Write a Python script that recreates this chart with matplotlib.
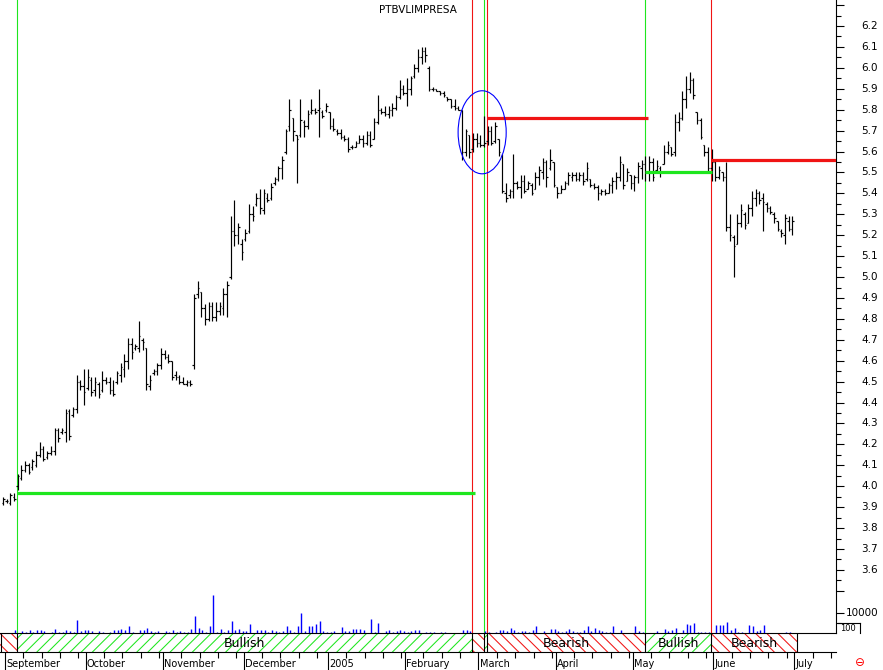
import numpy as np
import pandas as pd
import matplotlib
matplotlib.use("Agg")
import matplotlib.pyplot as plt
from matplotlib.collections import LineCollection
from matplotlib.patches import Rectangle, Ellipse
from matplotlib.lines import Line2D
import matplotlib.transforms as mtransforms

plt.rcParams['font.family'] = ['DejaVu Sans']
plt.rcParams['hatch.linewidth'] = 0.75

# ---------------- data ----------------
ticker = "PTBVLIMPRESA"
first_day = "2004-08-31"
axis_last_day = "2005-07-22"
holidays = ["2005-03-25", "2005-03-28"]

high = [3.95, 3.94, 3.97, 3.97, 4.06, 4.10, 4.12, 4.11, 4.13, 4.17,
        4.21, 4.19, 4.17, 4.19, 4.28, 4.28, 4.28, 4.37, 4.37, 4.38,
        4.53, 4.51, 4.56, 4.56, 4.52, 4.52, 4.50, 4.55, 4.52, 4.52,
        4.51, 4.55, 4.59, 4.63, 4.71, 4.71, 4.68, 4.79, 4.71, 4.66,
        4.53, 4.56, 4.59, 4.66, 4.65, 4.63, 4.60, 4.55, 4.53, 4.52,
        4.51, 4.51, 4.92, 4.98, 4.93, 4.87, 4.88, 4.88, 4.88, 4.88,
        4.95, 4.98, 5.29, 5.37, 5.26, 5.18, 5.23, 5.35, 5.34, 5.40,
        5.42, 5.42, 5.40, 5.45, 5.48, 5.53, 5.58, 5.71, 5.85, 5.76,
        5.68, 5.85, 5.75, 5.80, 5.85, 5.81, 5.90, 5.80, 5.83, 5.79,
        5.76, 5.71, 5.71, 5.68, 5.67, 5.63, 5.65, 5.68, 5.68, 5.70,
        5.70, 5.76, 5.87, 5.81, 5.82, 5.82, 5.83, 5.87, 5.94, 5.92,
        5.95, 5.96, 6.02, 6.09, 6.10, 6.10, 6.01, 5.91, 5.90, 5.89,
        5.89, 5.86, 5.85, 5.85, 5.82, 5.80, 5.71, 5.68, 5.69, 5.69,
        5.68, 5.77, 5.72, 5.72, 5.74, 5.66, 5.59, 5.45, 5.42, 5.59,
        5.46, 5.49, 5.49, 5.46, 5.45, 5.50, 5.53, 5.57, 5.56, 5.61,
        5.55, 5.43, 5.44, 5.46, 5.50, 5.50, 5.50, 5.50, 5.50, 5.55,
        5.47, 5.45, 5.44, 5.42, 5.42, 5.45, 5.48, 5.50, 5.58, 5.54,
        5.52, 5.49, 5.49, 5.55, 5.56, 5.58, 5.58, 5.57, 5.56, 5.53,
        5.63, 5.65, 5.62, 5.78, 5.79, 5.89, 5.96, 5.98, 5.95, 5.79,
        5.76, 5.63, 5.62, 5.61, 5.56, 5.53, 5.50, 5.55, 5.30, 5.20,
        5.30, 5.35, 5.31, 5.35, 5.41, 5.42, 5.41, 5.40, 5.36, 5.34,
        5.31, 5.27, 5.23, 5.30, 5.29, 5.29]

low = [3.91, 3.92, 3.91, 3.93, 3.98, 4.03, 4.07, 4.06, 4.08, 4.09,
       4.14, 4.12, 4.13, 4.15, 4.15, 4.21, 4.25, 4.21, 4.22, 4.33,
       4.35, 4.46, 4.39, 4.46, 4.43, 4.43, 4.42, 4.45, 4.49, 4.44,
       4.43, 4.49, 4.50, 4.52, 4.56, 4.61, 4.65, 4.64, 4.65, 4.46,
       4.46, 4.53, 4.53, 4.56, 4.61, 4.59, 4.51, 4.51, 4.49, 4.49,
       4.48, 4.48, 4.56, 4.90, 4.81, 4.77, 4.79, 4.79, 4.79, 4.82,
       4.82, 4.81, 4.99, 5.15, 5.16, 5.08, 5.17, 5.21, 5.27, 5.34,
       5.30, 5.30, 5.36, 5.37, 5.44, 5.46, 5.47, 5.59, 5.70, 5.65,
       5.45, 5.67, 5.67, 5.71, 5.78, 5.78, 5.67, 5.76, 5.79, 5.71,
       5.70, 5.68, 5.66, 5.65, 5.60, 5.61, 5.62, 5.64, 5.62, 5.63,
       5.62, 5.66, 5.73, 5.78, 5.77, 5.76, 5.77, 5.80, 5.85, 5.87,
       5.82, 5.87, 5.95, 5.98, 6.02, 6.03, 5.89, 5.89, 5.89, 5.87,
       5.86, 5.84, 5.81, 5.80, 5.80, 5.56, 5.58, 5.57, 5.60, 5.62,
       5.62, 5.62, 5.63, 5.63, 5.64, 5.58, 5.40, 5.36, 5.38, 5.38,
       5.42, 5.38, 5.40, 5.42, 5.39, 5.42, 5.44, 5.47, 5.43, 5.51,
       5.43, 5.38, 5.40, 5.42, 5.44, 5.46, 5.46, 5.46, 5.44, 5.46,
       5.43, 5.42, 5.37, 5.39, 5.39, 5.40, 5.40, 5.42, 5.46, 5.42,
       5.46, 5.42, 5.41, 5.45, 5.47, 5.46, 5.46, 5.46, 5.50, 5.48,
       5.54, 5.59, 5.58, 5.58, 5.70, 5.75, 5.81, 5.88, 5.85, 5.73,
       5.66, 5.58, 5.50, 5.46, 5.46, 5.47, 5.46, 5.22, 5.17, 5.00,
       5.16, 5.24, 5.23, 5.26, 5.29, 5.34, 5.35, 5.22, 5.31, 5.30,
       5.26, 5.22, 5.19, 5.16, 5.22, 5.20]

open_ = [3.92, 3.93, 3.92, 3.95, 4.00, 4.04, 4.08, 4.10, 4.09, 4.10,
         4.15, 4.18, 4.14, 4.16, 4.17, 4.27, 4.26, 4.26, 4.36, 4.34,
         4.37, 4.50, 4.48, 4.47, 4.51, 4.46, 4.49, 4.46, 4.51, 4.50,
         4.46, 4.50, 4.53, 4.56, 4.60, 4.68, 4.66, 4.66, 4.70, 4.66,
         4.48, 4.54, 4.55, 4.58, 4.63, 4.62, 4.60, 4.53, 4.52, 4.50,
         4.49, 4.50, 4.58, 4.92, 4.93, 4.85, 4.80, 4.86, 4.81, 4.84,
         4.85, 4.92, 5.00, 5.22, 5.20, 5.16, 5.18, 5.22, 5.30, 5.35,
         5.38, 5.32, 5.38, 5.38, 5.45, 5.47, 5.52, 5.60, 5.72, 5.76,
         5.68, 5.68, 5.74, 5.72, 5.79, 5.80, 5.80, 5.79, 5.80, 5.79,
         5.72, 5.70, 5.69, 5.67, 5.66, 5.62, 5.62, 5.64, 5.66, 5.64,
         5.68, 5.66, 5.74, 5.80, 5.79, 5.78, 5.80, 5.81, 5.86, 5.90,
         5.88, 5.90, 5.96, 6.00, 6.05, 6.08, 6.00, 5.90, 5.90, 5.89,
         5.88, 5.86, 5.85, 5.82, 5.81, 5.80, 5.60, 5.68, 5.61, 5.66,
         5.64, 5.63, 5.65, 5.70, 5.65, 5.66, 5.58, 5.40, 5.39, 5.41,
         5.45, 5.43, 5.46, 5.42, 5.44, 5.42, 5.48, 5.50, 5.55, 5.52,
         5.55, 5.43, 5.40, 5.42, 5.45, 5.48, 5.49, 5.47, 5.49, 5.47,
         5.47, 5.44, 5.43, 5.40, 5.41, 5.40, 5.44, 5.46, 5.48, 5.54,
         5.46, 5.49, 5.45, 5.48, 5.52, 5.54, 5.50, 5.55, 5.51, 5.52,
         5.54, 5.60, 5.62, 5.60, 5.74, 5.76, 5.85, 5.90, 5.94, 5.79,
         5.75, 5.63, 5.60, 5.52, 5.55, 5.48, 5.50, 5.48, 5.24, 5.19,
         5.16, 5.26, 5.30, 5.26, 5.33, 5.38, 5.40, 5.38, 5.35, 5.33,
         5.30, 5.27, 5.22, 5.20, 5.27, 5.23]

close = [3.94, 3.93, 3.96, 3.94, 4.05, 4.08, 4.10, 4.07, 4.12, 4.15,
         4.18, 4.13, 4.16, 4.17, 4.27, 4.23, 4.27, 4.35, 4.24, 4.37,
         4.50, 4.48, 4.45, 4.52, 4.45, 4.50, 4.44, 4.51, 4.50, 4.46,
         4.44, 4.54, 4.57, 4.60, 4.68, 4.64, 4.67, 4.72, 4.69, 4.49,
         4.51, 4.55, 4.58, 4.63, 4.62, 4.60, 4.52, 4.52, 4.50, 4.49,
         4.50, 4.49, 4.90, 4.95, 4.85, 4.80, 4.86, 4.81, 4.84, 4.86,
         4.92, 4.96, 5.22, 5.20, 5.24, 5.12, 5.21, 5.30, 5.29, 5.38,
         5.33, 5.40, 5.37, 5.43, 5.47, 5.52, 5.56, 5.70, 5.80, 5.70,
         5.66, 5.75, 5.72, 5.78, 5.80, 5.79, 5.81, 5.77, 5.82, 5.72,
         5.71, 5.69, 5.67, 5.66, 5.61, 5.62, 5.64, 5.66, 5.64, 5.68,
         5.63, 5.74, 5.80, 5.79, 5.78, 5.80, 5.81, 5.86, 5.90, 5.88,
         5.90, 5.95, 6.00, 6.05, 6.08, 6.06, 5.90, 5.90, 5.89, 5.88,
         5.87, 5.85, 5.82, 5.81, 5.80, 5.60, 5.70, 5.60, 5.66, 5.64,
         5.63, 5.64, 5.70, 5.64, 5.72, 5.60, 5.41, 5.38, 5.41, 5.45,
         5.43, 5.46, 5.41, 5.45, 5.40, 5.48, 5.51, 5.55, 5.48, 5.56,
         5.44, 5.40, 5.42, 5.45, 5.49, 5.49, 5.47, 5.49, 5.46, 5.52,
         5.44, 5.43, 5.40, 5.41, 5.40, 5.44, 5.46, 5.48, 5.55, 5.44,
         5.50, 5.45, 5.48, 5.53, 5.54, 5.50, 5.55, 5.48, 5.53, 5.50,
         5.60, 5.63, 5.59, 5.74, 5.76, 5.85, 5.90, 5.94, 5.87, 5.75,
         5.67, 5.60, 5.52, 5.55, 5.48, 5.51, 5.48, 5.24, 5.20, 5.15,
         5.26, 5.32, 5.25, 5.33, 5.38, 5.40, 5.37, 5.36, 5.33, 5.31,
         5.28, 5.23, 5.21, 5.28, 5.23, 5.27]

volume = [0, 0, 0, 1700, 0, 1200, 700, 1700, 500, 1300,
          1700, 1200, 0, 500, 2200, 500, 500, 1700, 800, 500,
          6700, 800, 1300, 1300, 800, 0, 800, 500, 0, 500,
          1300, 1300, 2200, 1300, 3700, 500, 0, 1700, 1700, 2700,
          800, 500, 800, 0, 800, 500, 1300, 500, 800, 500,
          500, 2200, 8300, 2700, 1300, 500, 3300, 19200, 500, 2200,
          500, 1700, 5800, 1700, 2200, 800, 800, 4700, 0, 1300,
          1700, 1700, 500, 1300, 800, 500, 800, 3300, 1700, 500,
          3300, 10000, 800, 3300, 3300, 4500, 5800, 800, 500, 500,
          800, 0, 2800, 800, 800, 2200, 2200, 2200, 1300, 0,
          7200, 500, 4800, 0, 800, 1300, 500, 800, 1300, 800,
          500, 800, 1300, 1700, 0, 500, 500, 500, 0, 500,
          500, 0, 0, 0, 0, 1700, 1700, 1200, 0, 0,
          0, 800, 500, 0, 500, 1700, 1300, 800, 2700, 1700,
          500, 1200, 1200, 500, 1300, 3300, 0, 800, 0, 2200,
          2200, 800, 500, 800, 2200, 1200, 500, 500, 1700, 3300,
          800, 2500, 1700, 800, 500, 500, 3300, 0, 1700, 0,
          0, 0, 3300, 800, 500, 0, 0, 0, 800, 0,
          2000, 800, 1700, 2500, 0, 1700, 4500, 4200, 5000, 500,
          500, 500, 500, 0, 3800, 3800, 3800, 5300, 1700, 2500,
          500, 500, 0, 4200, 3300, 800, 1700, 4200, 0, 0,
          0, 0, 0, 500, 500, 0]

# trading signals (bar index, kind) and stop levels
signal_bars = [3, 127, 130, 131, 174, 192]
signal_kind = ["buy", "sell", "buy", "sell", "buy", "sell"]
stop_start = [3, 131, 174, 192]
stop_end = [127.6, 174.7, 192.0, 227.0]
stop_level = [3.97, 5.76, 5.50, 5.56]
stop_kind = ["buy", "sell", "buy", "sell"]
band_end_bar = 215.3
band_label = {"buy": "Bullish", "sell": "Bearish"}
highlight_center = (129.5, 5.692)
highlight_size = (13.1, 0.397)

price_labels = [3.6, 3.7, 3.8, 3.9, 4.0, 4.1, 4.2, 4.3, 4.4, 4.5, 4.6, 4.7, 4.8,
                4.9, 5.0, 5.1, 5.2, 5.3, 5.4, 5.5, 5.6, 5.7, 5.8, 5.9, 6.0, 6.1, 6.2]

# ---------------- layout ----------------
W, H = 883, 670
GREEN = "#1ee61e"
RED = "#f01414"
kind_color = {"buy": GREEN, "sell": RED}
kind_hatch = {"buy": "///", "sell": "\\\\\\"}

n = len(high)
days = pd.bdate_range(first_day, axis_last_day)
days = days[~days.isin(pd.to_datetime(holidays))]
pos_all = np.arange(len(days)) - 1
x = pos_all[:n]

XL = (-1.85, 225.9)
fig = plt.figure(figsize=(W / 100, H / 100), dpi=100)
fig.patch.set_facecolor("white")

ax = fig.add_axes([0, 37 / H, 836 / W, 633 / H])
ax.set_xlim(XL)
ax.set_ylim(3.2985, 6.3243)
for s in ["top", "left", "bottom"]:
    ax.spines[s].set_visible(False)
ax.spines["right"].set_linewidth(0.8)
ax.set_xticks([])
ax.yaxis.tick_right()
ax.set_yticks(np.round(np.arange(3.5, 6.31, 0.1), 2))
ax.set_yticks(np.round(np.arange(3.55, 6.30, 0.1), 2), minor=True)
ax.tick_params(axis="y", which="major", length=6, width=0.8, labelright=False, right=True, left=False)
ax.tick_params(axis="y", which="minor", length=3.5, width=0.8, right=True, left=False)
yt = ax.get_yaxis_transform()
for v in price_labels:
    ax.text(878 / 836, v, f"{v:.1f}", transform=yt, ha="right", va="center",
            fontsize=7.5, clip_on=False)

# OHLC bars
segs = []
tk = 0.42
for xi, o, h, l, c in zip(x, open_, high, low, close):
    segs.append([(xi, l), (xi, h)])
    segs.append([(xi - tk, o), (xi, o)])
    segs.append([(xi, c), (xi + tk, c)])
ax.add_collection(LineCollection(segs, colors="black", linewidths=0.85, zorder=3))

# signal lines
for b, k in zip(signal_bars, signal_kind):
    ax.axvline(b - 0.13, color=kind_color[k], lw=0.8, zorder=2)
for s0, s1, lv, k in zip(stop_start, stop_end, stop_level, stop_kind):
    ax.hlines(lv, s0 - 0.13, s1, color=kind_color[k], lw=2.3, zorder=4)

ax.add_patch(Ellipse(highlight_center, highlight_size[0], highlight_size[1],
                     fill=False, edgecolor="#0000ff", lw=0.8, zorder=5))

# volume
axv = fig.add_axes([0, 37 / H, 836 / W, 40 / H])
axv.patch.set_alpha(0)
axv.set_xlim(XL)
axv.set_ylim(0, 20000)
for s in axv.spines.values():
    s.set_visible(False)
axv.set_xticks([])
axv.yaxis.tick_right()
axv.set_yticks([10000])
axv.set_yticks([5000], minor=True)
axv.tick_params(axis="y", which="major", length=6, width=0.8, labelright=False, right=True, left=False)
axv.tick_params(axis="y", which="minor", length=3.5, width=0.8, right=True, left=False)
axv.text(878 / 836, 10000, "10000", transform=axv.get_yaxis_transform(), ha="right",
         va="center", fontsize=7.5, clip_on=False)
vx = x + 0.25
axv.vlines(vx, 0, volume, colors="#0000ff", lw=1.0)

# signal band
axb = fig.add_axes([0, 18 / H, 836 / W, 19 / H])
axb.set_xlim(XL)
axb.set_ylim(0, 1)
axb.set_yticks([])
for s in ["left", "right"]:
    axb.spines[s].set_visible(False)
for s in ["top", "bottom"]:
    axb.spines[s].set_linewidth(0.8)

bounds = [XL[0]] + [b - 0.13 for b in signal_bars] + [band_end_bar]
kinds = ["sell"] + signal_kind
for x0, x1, k in zip(bounds[:-1], bounds[1:], kinds):
    axb.add_patch(Rectangle((x0, 0), x1 - x0, 1, facecolor="white",
                            edgecolor=kind_color[k], hatch=kind_hatch[k], lw=0))
    if x1 - x0 > 12:
        axb.text((x0 + x1) / 2, 0.47, band_label[k], ha="center", va="center", fontsize=9)
axb.vlines([XL[0] + 0.15] + bounds[1:], 0, 1, colors="black", lw=0.8)

# month axis
month_pos = []
month_lab = []
for k in range(1, len(days)):
    if days[k].month != days[k - 1].month and pos_all[k] < XL[1]:
        month_pos.append(pos_all[k])
        d = days[k]
        month_lab.append(str(d.year) if d.month == 1 else d.strftime("%B"))
minor_pos = []
edges = month_pos + [XL[1] + 1]
for m0, m1 in zip(edges[:-1], edges[1:]):
    p = m0 + 5
    while p < m1 - 0.5 and p < XL[1]:
        minor_pos.append(p)
        p += 5
axb.set_xticks([p - 0.5 for p in month_pos])
axb.set_xticks([p - 0.5 for p in minor_pos], minor=True)
axb.tick_params(axis="x", which="major", length=13, width=0.8, labelbottom=False)
axb.tick_params(axis="x", which="minor", length=4, width=0.8)
trans = mtransforms.blended_transform_factory(axb.transData, fig.transFigure)
for p, lab in zip(month_pos, month_lab):
    axb.text(p - 0.5 + 0.3, 1 - 664 / H, lab, transform=trans, ha="left", va="center",
             fontsize=7, clip_on=False)

# title and small decorations
fig.text(418 / W, 1 - 10 / H, ticker, ha="center", va="center", fontsize=7.5)
fig.text(859.5 / W, 1 - 662.5 / H, "\u2296", color="red", ha="center", va="center", fontsize=8.5)
fig.text(840 / W, 1 - 628.5 / H, "100", ha="left", va="center", fontsize=6)
fig.add_artist(Line2D([838 / W, 860 / W], [1 - 623 / H, 1 - 623 / H], color="black", lw=0.8))
fig.add_artist(Line2D([860 / W, 860 / W], [1 - 623 / H, 1 - 633 / H], color="black", lw=0.8))

fig.savefig("out.png", dpi=100, facecolor="white")
